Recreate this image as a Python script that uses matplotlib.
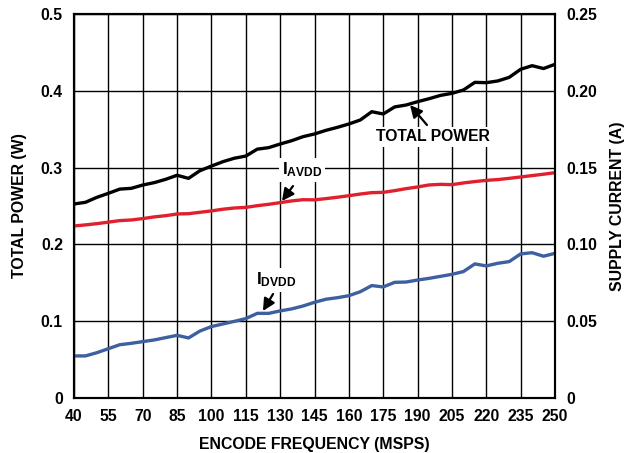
import numpy as np
import matplotlib
matplotlib.use("Agg")
import matplotlib.pyplot as plt

plt.rcParams['font.family'] = ['Liberation Sans', 'DejaVu Sans']
plt.rcParams['font.weight'] = 'bold'
plt.rcParams['mathtext.fontset'] = 'custom'
plt.rcParams['mathtext.bf'] = 'Liberation Sans:bold'
plt.rcParams['mathtext.rm'] = 'Liberation Sans:bold'

# frequencia de encode (MSPS)
freq = list(range(40, 251, 5))

# potencia total (W)
total_power = [0.2526, 0.2548, 0.2613, 0.2665, 0.2720, 0.2730, 0.2773, 0.2804,
               0.2847, 0.2900, 0.2860, 0.2960, 0.3020, 0.3077, 0.3122, 0.3150,
               0.3240, 0.3260, 0.3307, 0.3350, 0.3403, 0.3438, 0.3485, 0.3524,
               0.3568, 0.3620, 0.3728, 0.3698, 0.3790, 0.3815, 0.3858, 0.3897,
               0.3940, 0.3967, 0.4010, 0.4110, 0.4106, 0.4128, 0.4175, 0.4280,
               0.4327, 0.4290, 0.4345]

# corrente AVDD (A)
i_avdd = [0.1120, 0.1127, 0.1135, 0.1145, 0.1155, 0.1159, 0.1168, 0.1179,
          0.1187, 0.1198, 0.1200, 0.1209, 0.1218, 0.1229, 0.1237, 0.1241,
          0.1252, 0.1261, 0.1272, 0.1283, 0.1291, 0.1290, 0.1298, 0.1307,
          0.1317, 0.1328, 0.1337, 0.1339, 0.1350, 0.1363, 0.1374, 0.1387,
          0.1391, 0.1389, 0.1400, 0.1409, 0.1417, 0.1422, 0.1430, 0.1439,
          0.1448, 0.1457, 0.1467]

# corrente DVDD (A)
i_dvdd = [0.0274, 0.0274, 0.0295, 0.0321, 0.0347, 0.0356, 0.0367, 0.0378,
          0.0393, 0.0408, 0.0391, 0.0436, 0.0465, 0.0482, 0.0499, 0.0517,
          0.0551, 0.0551, 0.0567, 0.0580, 0.0599, 0.0623, 0.0643, 0.0653,
          0.0666, 0.0692, 0.0732, 0.0723, 0.0753, 0.0755, 0.0768, 0.0779,
          0.0792, 0.0805, 0.0823, 0.0873, 0.0860, 0.0877, 0.0888, 0.0938,
          0.0946, 0.0923, 0.0942]

x_ticks = list(range(40, 251, 15))
left_ticks = [0, 0.1, 0.2, 0.3, 0.4, 0.5]
left_labels = ['0', '0.1', '0.2', '0.3', '0.4', '0.5']
right_ticks = [0, 0.05, 0.10, 0.15, 0.20, 0.25]
right_labels = ['0', '0.05', '0.10', '0.15', '0.20', '0.25']

fig = plt.figure(figsize=(6.3, 4.53), dpi=100)
ax = fig.add_axes([74 / 630, 1 - 398 / 453, 481 / 630, 384 / 453])
ax2 = ax.twinx()

ax.set_xlim(40, 250)
ax.set_ylim(0, 0.5)
ax2.set_ylim(0, 0.25)

ax.set_xticks(x_ticks)
ax.set_yticks(left_ticks)
ax.set_yticklabels(left_labels)
ax2.set_yticks(right_ticks)
ax2.set_yticklabels(right_labels)

ax.grid(True, color='black', lw=1.0)
ax.set_axisbelow(True)
for a in (ax, ax2):
    a.tick_params(length=0, labelsize=11.3, pad=8)
    for s in a.spines.values():
        s.set_linewidth(1.5)

estilo = dict(lw=2.4, solid_joinstyle='round', solid_capstyle='round')
ax.plot(freq, total_power, color='black', zorder=3, **estilo)
ax2.plot(freq, i_avdd, color='#E0202E', **estilo)
ax2.plot(freq, i_dvdd, color='#3E5FA0', **estilo)

ax.set_xlabel('ENCODE FREQUENCY (MSPS)', fontsize=11.4, fontweight='bold', labelpad=9)
ax.set_ylabel('TOTAL POWER (W)', fontsize=11.4, fontweight='bold', labelpad=10)
ax2.set_ylabel('SUPPLY CURRENT (A)', fontsize=11.4, fontweight='bold', labelpad=9)

# anotacoes (coordenadas do eixo da esquerda, em W), desenhadas no ax2 para ficarem por cima
caixa = dict(boxstyle='square,pad=0.15', fc='white', ec='none')
seta = dict(arrowstyle='-|>', color='black', lw=1.6, mutation_scale=18,
            shrinkA=0, shrinkB=0)
tr = ax.transData
ax2.annotate('', xy=(186.7, 0.3815), xytext=(194.1, 0.3555), xycoords=tr,
             textcoords=tr, arrowprops=seta)
ax2.text(196.8, 0.340, 'TOTAL POWER', ha='center', va='center', fontsize=11.3,
         fontweight='bold', bbox=caixa, transform=tr)
ax2.annotate('', xy=(130.8, 0.2565), xytext=(135.6, 0.276), xycoords=tr,
             textcoords=tr, arrowprops=seta)
ax2.text(139.5, 0.297, r'$\mathbf{I_{AVDD}}$', ha='center', va='center',
         fontsize=12.5, bbox=caixa, transform=tr)
ax2.annotate('', xy=(122.5, 0.1133), xytext=(126.9, 0.1354), xycoords=tr,
             textcoords=tr, arrowprops=seta)
ax2.text(128.5, 0.154, r'$\mathbf{I_{DVDD}}$', ha='center', va='center',
         fontsize=12.5, bbox=caixa, transform=tr)

fig.savefig('out.png', dpi=100)
